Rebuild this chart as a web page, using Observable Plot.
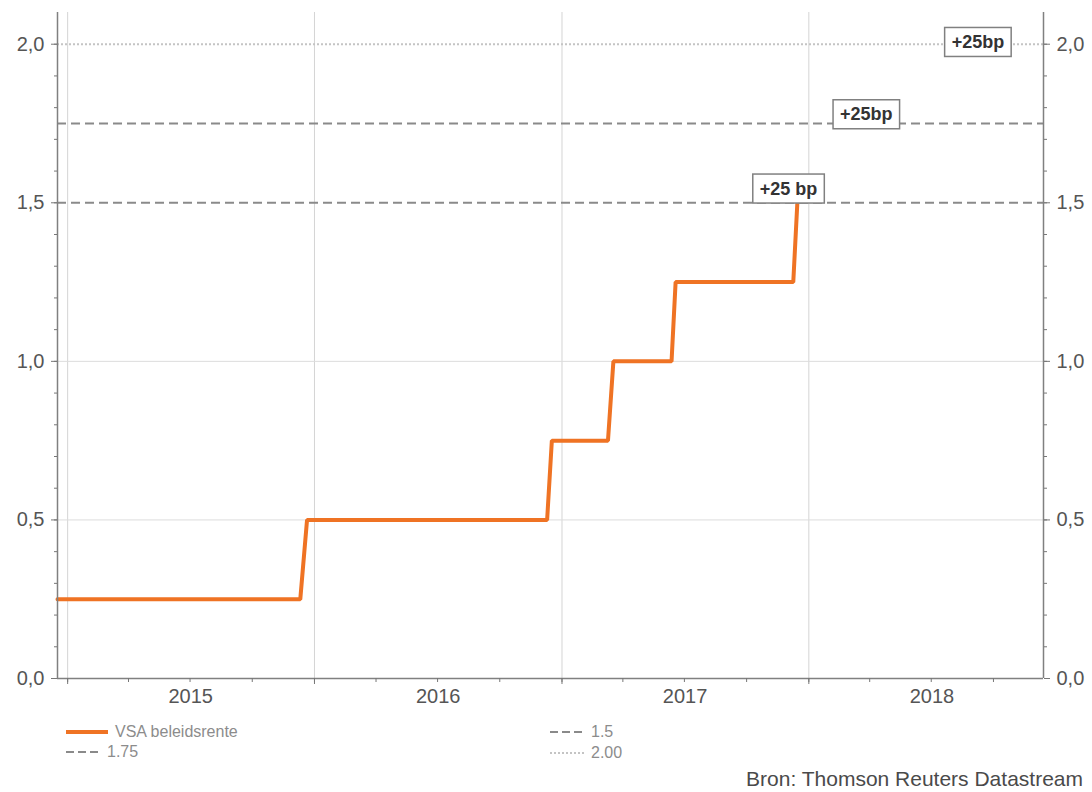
<!DOCTYPE html>
<html><head><meta charset="utf-8">
<script src="https://cdn.jsdelivr.net/npm/d3@7"></script>
<script src="https://cdn.jsdelivr.net/npm/@observablehq/plot@0.6"></script>
<style>
body{margin:0;background:#fff;font-family:"Liberation Sans",Arial,sans-serif;}
#wrap{position:relative;width:1092px;height:792px;overflow:hidden;}
#wrap svg.chart{position:absolute;left:0;top:0;}
.leg{position:absolute;height:20px;line-height:20px;font-size:16px;color:#8c8c8c;display:flex;align-items:center;white-space:nowrap;}
.leg svg{margin-right:7px;display:block}
#src{position:absolute;right:9px;top:767px;font-size:21px;color:#4a4a4a;white-space:nowrap;}
</style></head><body><div id="wrap"></div>
<script>
// ---- data ----
const rateDates = ["2014-12-17","2015-12-11","2015-12-21","2016-12-10","2016-12-17","2017-03-10","2017-03-18","2017-06-12","2017-06-18","2017-12-09","2017-12-15"];
const rateValues = [0.25,0.25,0.5,0.5,0.75,0.75,1.0,1.0,1.25,1.25,1.5];
const refLevels = [1.5, 1.75, 2.0];
const refNames = ["1.5", "1.75", "2.00"];
const annoDates = ["2017-12-02", "2018-03-27", "2018-09-08"];
const annoLevels = [1.5, 1.75, 2.0];
const annoTexts = ["+25 bp", "+25bp", "+25bp"];
const yearLabels = [2015, 2016, 2017, 2018];
const yTicks = [0, 0.5, 1.0, 1.5, 2.0];
const xDomainDates = ["2014-12-17", "2018-12-14"];
const yDomain = [0, 2.1];
const seriesName = "VSA beleidsrente";
const sourceText = "Bron: Thomson Reuters Datastream";

// ---- derived ----
const parse = d3.utcParse("%Y-%m-%d");
const rate = rateDates.map((d, i) => ({date: parse(d), value: rateValues[i]}));
const xDomain = xDomainDates.map(parse);
const yearStarts = yearLabels.map(y => new Date(Date.UTC(y, 0, 1)));
const yearMids = yearLabels.map(y => new Date(Date.UTC(y, 6, 2)));
const quarterTicks = d3.utcMonth.every(3).range(xDomain[0], xDomain[1]);
const minorY = d3.range(0, 21).map(i => i / 10);
const fmtY = d => d.toFixed(1).replace(".", ",");

const ORANGE = "#ef7324";
const H = 712;
const refStyles = [
  {stroke: "#8a8a8a", strokeWidth: 2, strokeDasharray: "9,5"},
  {stroke: "#8a8a8a", strokeWidth: 2, strokeDasharray: "9,5"},
  {stroke: "#c4c4c4", strokeWidth: 2, strokeDasharray: "2,2"}
];
const annoDy = [-14, -9, -2];

const chart = Plot.plot({
  width: 1092, height: H,
  marginLeft: 57, marginRight: 49, marginTop: 12, marginBottom: H - 678,
  style: {color: "#555", fontSize: "20px", fontFamily: "'Liberation Sans', Arial, sans-serif", background: "#fff"},
  x: {type: "utc", domain: xDomain},
  y: {domain: yDomain},
  marks: [
    Plot.gridX(yearStarts, {stroke: "#d4d4d4", strokeOpacity: 1}),
    Plot.gridY([0.5, 1.0], {stroke: "#dcdcdc", strokeOpacity: 1}),
    ...refLevels.map((v, i) => Plot.ruleY([v], refStyles[i])),
    Plot.line(rate, {x: "date", y: "value", stroke: ORANGE, strokeWidth: 4, strokeLinejoin: "miter"}),
    Plot.ruleX(xDomain, {stroke: "#808080", strokeWidth: 1.5}),
    Plot.ruleY([0], {stroke: "#808080", strokeWidth: 1.5}),
    Plot.axisX(quarterTicks, {tickSize: 4, tickFormat: () => "", stroke: "#777", label: null}),
    Plot.axisX(yearStarts, {tickSize: 6, tickFormat: () => "", stroke: "#777", label: null}),
    Plot.axisX(yearMids, {tickSize: 0, tickPadding: 10, tickFormat: d => String(d.getUTCFullYear()), fill: "#555", label: null}),
    Plot.axisY(minorY, {anchor: "left", tickSize: 3, tickFormat: () => "", stroke: "#777", label: null}),
    Plot.axisY(yTicks, {anchor: "left", tickSize: 6, tickPadding: 7, tickFormat: fmtY, fill: "#555", stroke: "#777", label: null}),
    Plot.axisY(minorY, {anchor: "right", tickSize: 3, tickFormat: () => "", stroke: "#777", label: null}),
    Plot.axisY(yTicks, {anchor: "right", tickSize: 6, tickPadding: 7, tickFormat: fmtY, fill: "#555", stroke: "#777", label: null}),
    ...annoTexts.map((t, i) => Plot.text([t], {
      x: () => parse(annoDates[i]), y: () => annoLevels[i], text: d => d,
      dy: annoDy[i], fontSize: 18, fontWeight: "bold", fill: "#333"
    }))
  ]
});
chart.classList.add("chart");
const wrap = document.getElementById("wrap");
wrap.appendChild(chart);

// boxes around annotation texts
chart.querySelectorAll('g[aria-label="text"] text').forEach(t => {
  const b = t.getBBox();
  const r = document.createElementNS("http://www.w3.org/2000/svg", "rect");
  const padX = 7, padY = 4.5;
  r.setAttribute("x", b.x - padX);
  r.setAttribute("y", b.y - padY);
  r.setAttribute("width", b.width + 2 * padX);
  r.setAttribute("height", b.height + 2 * padY);
  r.setAttribute("fill", "#fff");
  r.setAttribute("stroke", "#808080");
  r.setAttribute("stroke-width", "1.5");
  if (t.getAttribute("transform")) r.setAttribute("transform", t.getAttribute("transform"));
  t.parentNode.insertBefore(r, t);
});

// legend
function swatch(kind) {
  const w = kind === "solid" ? 42 : 34;
  let line;
  if (kind === "solid") line = `<line x1="0" x2="${w}" y1="5" y2="5" stroke="${ORANGE}" stroke-width="4"/>`;
  else if (kind === "dash") line = `<line x1="0" x2="${w}" y1="5" y2="5" stroke="#8a8a8a" stroke-width="2" stroke-dasharray="8,4"/>`;
  else line = `<line x1="0" x2="${w}" y1="5" y2="5" stroke="#c4c4c4" stroke-width="2" stroke-dasharray="2,2"/>`;
  return `<svg width="${w}" height="10">${line}</svg>`;
}
const legendItems = [
  {label: seriesName, kind: "solid", left: 66, top: 722},
  {label: refNames[1], kind: "dash", left: 66, top: 742},
  {label: refNames[0], kind: "dash", left: 550, top: 722},
  {label: refNames[2], kind: "dot", left: 550, top: 743}
];
legendItems.forEach(it => {
  const d = document.createElement("div");
  d.className = "leg";
  d.style.left = it.left + "px";
  d.style.top = it.top + "px";
  d.innerHTML = swatch(it.kind) + `<span>${it.label}</span>`;
  wrap.appendChild(d);
});
const src = document.createElement("div");
src.id = "src";
src.textContent = sourceText;
wrap.appendChild(src);
</script></body></html>
